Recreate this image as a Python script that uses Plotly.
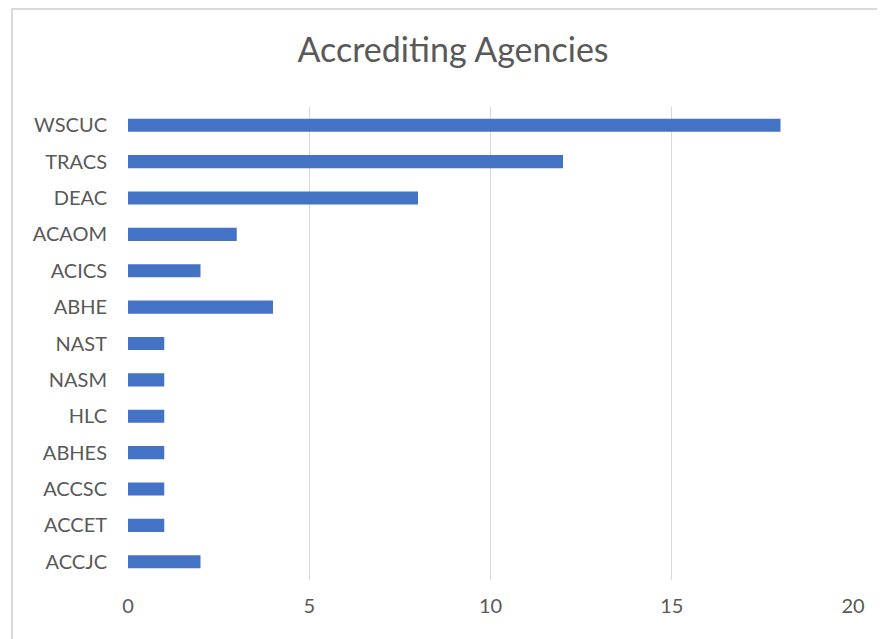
import plotly.graph_objects as go

agencies = ["WSCUC", "TRACS", "DEAC", "ACAOM", "ACICS", "ABHE", "NAST",
            "NASM", "HLC", "ABHES", "ACCSC", "ACCET", "ACCJC"]
counts = [18, 12, 8, 3, 2, 4, 1, 1, 1, 1, 1, 1, 2]
x_ticks = [0, 5, 10, 15, 20]

fig = go.Figure(go.Bar(
    x=counts, y=agencies, orientation="h",
    marker=dict(color="#4472C4", line=dict(width=0)),
))

# page body has an 8px margin
OFF = 8
W, H = 877, 631
L, R, T, B = 128 - OFF, 32, 107 - OFF, 59
pw, ph = W - L - R, H - T - B

fig.update_layout(
    width=W, height=H,
    margin=dict(l=L, r=R, t=T, b=B),
    paper_bgcolor="white", plot_bgcolor="white",
    bargap=0.64,
    font=dict(family="Lato, Open Sans, sans-serif", color="#595959", size=20),
    title=dict(text="Accrediting Agencies", x=(453 - OFF) / W, xanchor="center",
               y=1 - (50 - OFF) / H, yanchor="middle",
               font=dict(size=34, color="#595959")),
    xaxis=dict(range=[0, 20], tickvals=x_ticks, showgrid=True,
               gridcolor="#D9D9D9", gridwidth=1, zeroline=False,
               showline=False, ticks="", ticklabelstandoff=12,
               tickfont=dict(size=20), fixedrange=True),
    yaxis=dict(autorange="reversed", showgrid=False, zeroline=False,
               showline=False, ticks="", ticklabelstandoff=20,
               tickfont=dict(size=20)),
    showlegend=False,
    shapes=[dict(type="rect", xref="paper", yref="paper",
                 x0=(12 - 128) / pw, x1=(900 - 128) / pw,
                 y0=(580 - 660) / ph, y1=1 + (T - 1) / ph,
                 line=dict(color="#D9D9D9", width=2), layer="below")],
)

fig.write_html("out.html")
